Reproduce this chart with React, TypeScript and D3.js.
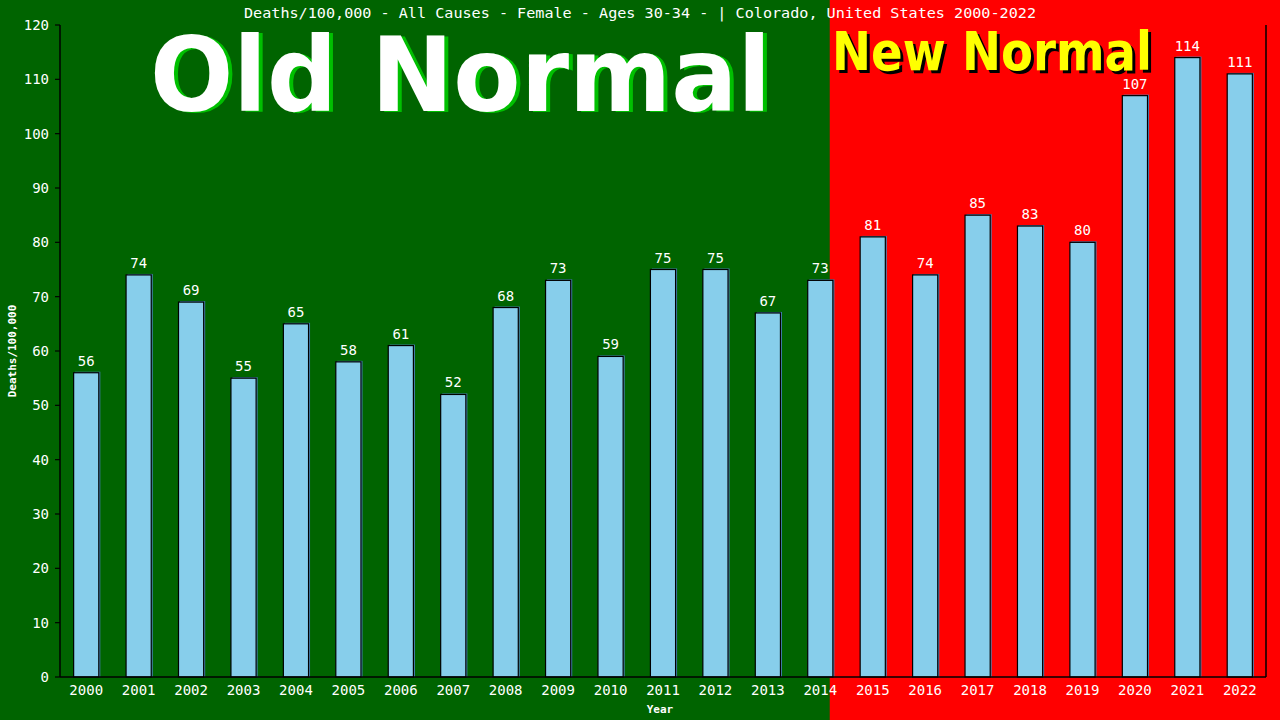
import React from "react";
import * as d3 from "d3";

const years = ["2000","2001","2002","2003","2004","2005","2006","2007","2008","2009","2010","2011","2012","2013","2014","2015","2016","2017","2018","2019","2020","2021","2022"];
const deaths = [56,74,69,55,65,58,61,52,68,73,59,75,75,67,73,81,74,85,83,80,107,114,111];
const yTicks = [0,10,20,30,40,50,60,70,80,90,100,110,120];
const titleText = "Deaths/100,000 - All Causes - Female - Ages 30-34 -  | Colorado, United States 2000-2022";
const newNormalStart = "2014";

const W = 1280, H = 720;
const L = 60, R = 1266, T = 25, B = 677;
const mono = "'DejaVu Sans Mono', 'Liberation Mono', monospace";

export default function App() {
  const x = d3.scaleBand<string>().domain(years).range([L, R]).padding(0);
  const y = d3.scaleLinear().domain([0, 120]).range([B, T]);
  const bw = x.bandwidth();
  const barW = bw * 0.48;
  const split = (x(newNormalStart) as number) + bw * 0.68;

  return (
    <svg width={W} height={H} style={{ position: "absolute", left: 0, top: 0 }}>
      <rect x={0} y={0} width={W} height={H} fill="#006400" />
      <rect x={split} y={0} width={W - split} height={H} fill="#ff0000" />

      {/* Big labels */}
      <g fontFamily="'DejaVu Sans', Verdana, sans-serif" fontWeight="bold">
        <text x={154} y={112} fontSize={104} fill="#00c000" textLength={621} lengthAdjust="spacingAndGlyphs">Old Normal</text>
        <text x={150} y={111} fontSize={104} fill="#ffffff" textLength={621} lengthAdjust="spacingAndGlyphs">Old Normal</text>
        <text x={835} y={73} fontSize={54} fill="#000000" textLength={320} lengthAdjust="spacingAndGlyphs">New Normal</text>
        <text x={832} y={70} fontSize={54} fill="#ffff00" textLength={320} lengthAdjust="spacingAndGlyphs">New Normal</text>
      </g>

      {/* Title */}
      <text x={640} y={18} textAnchor="middle" fontFamily={mono} fontSize={14} fill="#ffffff" textLength={792} lengthAdjust="spacingAndGlyphs">{titleText}</text>

      {/* Bars */}
      {years.map((yr, i) => {
        const cx = (x(yr) as number) + bw / 2;
        const x0 = cx - barW / 2;
        const y0 = y(deaths[i]);
        return (
          <g key={yr}>
            <rect x={x0 + 1.5} y={y0 - 1} width={barW} height={B - y0 + 1} fill="#4682b4" />
            <rect x={x0} y={y0} width={barW} height={B - y0} fill="#87ceeb" stroke="#000" strokeWidth={1.2} />
            <text x={cx} y={y0 - 7} textAnchor="middle" fontFamily={mono} fontSize={14} fill="#fff">{deaths[i]}</text>
          </g>
        );
      })}

      {/* Axes */}
      <line x1={L} y1={T} x2={L} y2={B} stroke="#000" strokeWidth={1.5} />
      <line x1={R} y1={T} x2={R} y2={B} stroke="#000" strokeWidth={1.5} />
      <line x1={L} y1={B} x2={R} y2={B} stroke="#000" strokeWidth={1.5} />
      {yTicks.map(t => (
        <g key={t}>
          <line x1={L - 5} x2={L} y1={y(t)} y2={y(t)} stroke="#000" strokeWidth={1.2} />
          <text x={L - 11} y={y(t) + 5} textAnchor="end" fontFamily={mono} fontSize={14} fill="#fff">{t}</text>
        </g>
      ))}
      {years.map(yr => (
        <text key={yr} x={(x(yr) as number) + bw / 2} y={695} textAnchor="middle" fontFamily={mono} fontSize={14} fill="#fff">{yr}</text>
      ))}

      <text x={660} y={713} textAnchor="middle" fontFamily={mono} fontWeight="bold" fontSize={11} fill="#fff">Year</text>
      <text transform={`translate(16, 351) rotate(-90)`} textAnchor="middle" fontFamily={mono} fontWeight="bold" fontSize={11} fill="#fff">Deaths/100,000</text>
    </svg>
  );
}
